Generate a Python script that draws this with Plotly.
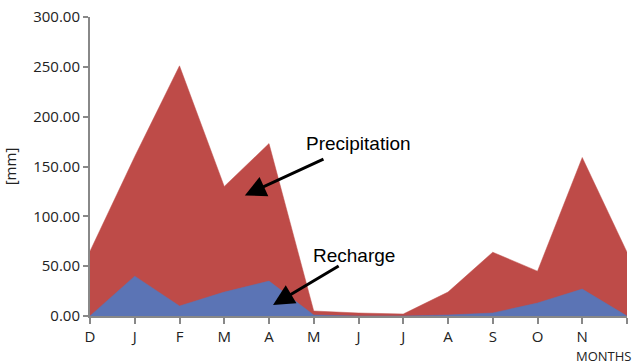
import plotly.graph_objects as go

months = ["D", "J", "F", "M", "A", "M", "J", "J", "A", "S", "O", "N", "D"]
precipitation = [65, 160, 251, 130, 173, 5, 3, 2, 24, 64, 45, 159, 64]
recharge = [0, 40, 10, 24, 35, 1, 0, 0, 1, 3, 13, 27, 0]
y_ticks = [0, 50, 100, 150, 200, 250, 300]

xs = list(range(len(months)))

fig = go.Figure()
fig.add_trace(go.Scatter(x=xs, y=precipitation, mode="lines", fill="tozeroy",
                         line=dict(color="#C0504D", width=0.5), fillcolor="#BE4B48",
                         name="Precipitation"))
fig.add_trace(go.Scatter(x=xs, y=recharge, mode="lines", fill="tozeroy",
                         line=dict(color="#5B74B5", width=0.5), fillcolor="#5B74B5",
                         name="Recharge"))

txtfont = dict(family="Liberation Sans, Arial", size=19, color="black")
fig.add_annotation(x=5.99, y=173, text="Precipitation", showarrow=False, font=txtfont)
fig.add_annotation(x=5.89, y=61, text="Recharge", showarrow=False, font=txtfont)
fig.add_annotation(x=3.46, y=121, ax=5.25, ay=158, axref="x", ayref="y", text="",
                   showarrow=True, arrowhead=2, arrowsize=1.4, arrowwidth=3, arrowcolor="black")
fig.add_annotation(x=4.09, y=11, ax=5.59, ay=51, axref="x", ayref="y", text="",
                   showarrow=True, arrowhead=2, arrowsize=1.4, arrowwidth=3, arrowcolor="black")
fig.add_annotation(x=1, y=0, xref="paper", yref="paper", xanchor="right", yanchor="top",
                   yshift=-29, xshift=6, text="MONTHS", showarrow=False,
                   font=dict(family="Open Sans", size=13, color="#222"))

fig.update_layout(
    width=632, height=364,
    margin=dict(l=90, r=5, t=17, b=48),
    paper_bgcolor="white", plot_bgcolor="white",
    showlegend=False,
    font=dict(family="Open Sans", size=15, color="#222"),
)
fig.update_xaxes(range=[0, 12], tickvals=xs, ticktext=months, showgrid=False, zeroline=False,
                 showline=True, linecolor="#888", linewidth=2, ticks="outside", ticklen=6,
                 tickcolor="#888", tickwidth=2, tickfont=dict(size=15), automargin=False)
fig.update_yaxes(range=[0, 300], tickvals=y_ticks, ticktext=[f"{v:.2f}" for v in y_ticks],
                 showgrid=False, zeroline=False, showline=True, linecolor="#888", linewidth=2,
                 ticks="outside", ticklen=5, tickcolor="#888", tickwidth=2, automargin=False,
                 title=dict(text="[mm]", standoff=14, font=dict(size=15)), tickfont=dict(size=15))

fig.write_html("out.html", config={"displayModeBar": False},
               post_script="document.body.style.margin='0';")
